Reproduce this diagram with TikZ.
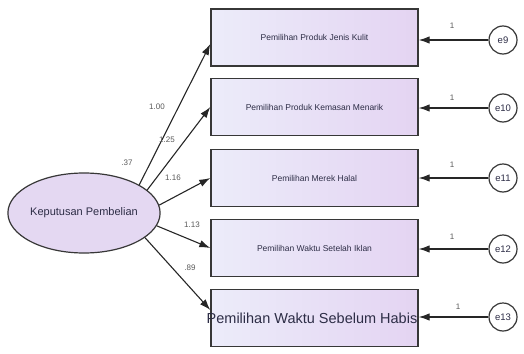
\documentclass[tikz,border=0pt]{standalone}
\usepackage{fontspec}
\setmainfont{Liberation Sans}
\usetikzlibrary{shapes,arrows.meta}

\definecolor{boxleft}{RGB}{236,236,250}
\definecolor{boxright}{RGB}{228,212,242}
\definecolor{ellfill}{RGB}{228,216,242}
\definecolor{ink}{RGB}{45,45,70}
\definecolor{edge}{RGB}{55,55,55}

\tikzset{
  indbox/.style={draw=edge,line width=1.4pt,left color=boxleft,right color=boxright,
    minimum width=207pt,minimum height=57pt,inner sep=0pt,text=ink,font=\fontsize{8.5}{9}\selectfont},
  errcirc/.style={circle,draw=edge,line width=1.2pt,fill=white,minimum size=28pt,inner sep=0pt,
    text=ink,font=\fontsize{9.5}{10}\selectfont},
  lat/.style={ellipse,draw=edge,line width=1.2pt,fill=ellfill,minimum width=150pt,minimum height=80pt,
    inner sep=0pt,text=ink,font=\fontsize{11}{12}\selectfont},
  ldpath/.style={draw=black!85,line width=1.1pt,-{Latex[length=11pt,width=7.5pt]}},
  coef/.style={text=black!65,font=\fontsize{8}{9}\selectfont,inner sep=0pt}
}

\begin{document}
\begin{tikzpicture}[x=1pt,y=-1pt]
\useasboundingbox (0,0) rectangle (524,353);
% latent variable
\node[lat] (KP) at (84,213) {Keputusan Pembelian};
% indicators
\node[indbox] (b9) at (314.5,37.5) {Pemilihan Produk Jenis Kulit};
\node[indbox] (b10) at (314.5,107) {Pemilihan Produk Kemasan Menarik};
\node[indbox] (b11) at (314.5,178) {Pemilihan Merek Halal};
\node[indbox] (b12) at (314.5,248) {Pemilihan Waktu Setelah Iklan};
\node[indbox] (b13) at (314.5,318) {};
\node[text=ink,font=\fontsize{14.5}{16}\selectfont,inner sep=0pt] (t13) at (312,318) {Pemilihan Waktu Sebelum Habis};
% errors
\node[errcirc] (e9) at (503,40) {e9};
\node[errcirc] (e10) at (503,108) {e10};
\node[errcirc] (e11) at (503,178) {e11};
\node[errcirc] (e12) at (503,249) {e12};
\node[errcirc] (e13) at (503,317) {e13};
% loadings
\draw[ldpath] (KP.27) -- ([yshift=-6.5pt]b9.west);
\draw[ldpath] (KP.20) -- (b10.west);
\draw[ldpath] (KP.6) -- (b11.west);
\draw[ldpath] (KP.-10) -- (b12.west);
\draw[ldpath] (KP.-22) -- ([yshift=8pt]b13.west);
\node[coef] (r2) at (127,163) {.37};
\node[coef] (l9) at (157,107) {1.00};
\node[coef] (l10) at (167,140) {1.25};
\node[coef] (l11) at (173,178) {1.16};
\node[coef] (l12) at (192,225) {1.13};
\node[coef] (l13) at (190,268) {.89};
% error paths
\draw[ldpath] (e9.west) -- (e9.west -| b9.east);
\draw[ldpath] (e10.west) -- (e10.west -| b10.east);
\draw[ldpath] (e11.west) -- (e11.west -| b11.east);
\draw[ldpath] (e12.west) -- (e12.west -| b12.east);
\draw[ldpath] (e13.west) -- (e13.west -| b13.east);
\node[coef] (w9) at (452,26) {1};
\node[coef] (w10) at (452,98) {1};
\node[coef] (w11) at (452,165) {1};
\node[coef] (w12) at (452,237) {1};
\node[coef] (w13) at (458,307) {1};
%\node[coef] at (522,4) {0};
\end{tikzpicture}
\end{document}
